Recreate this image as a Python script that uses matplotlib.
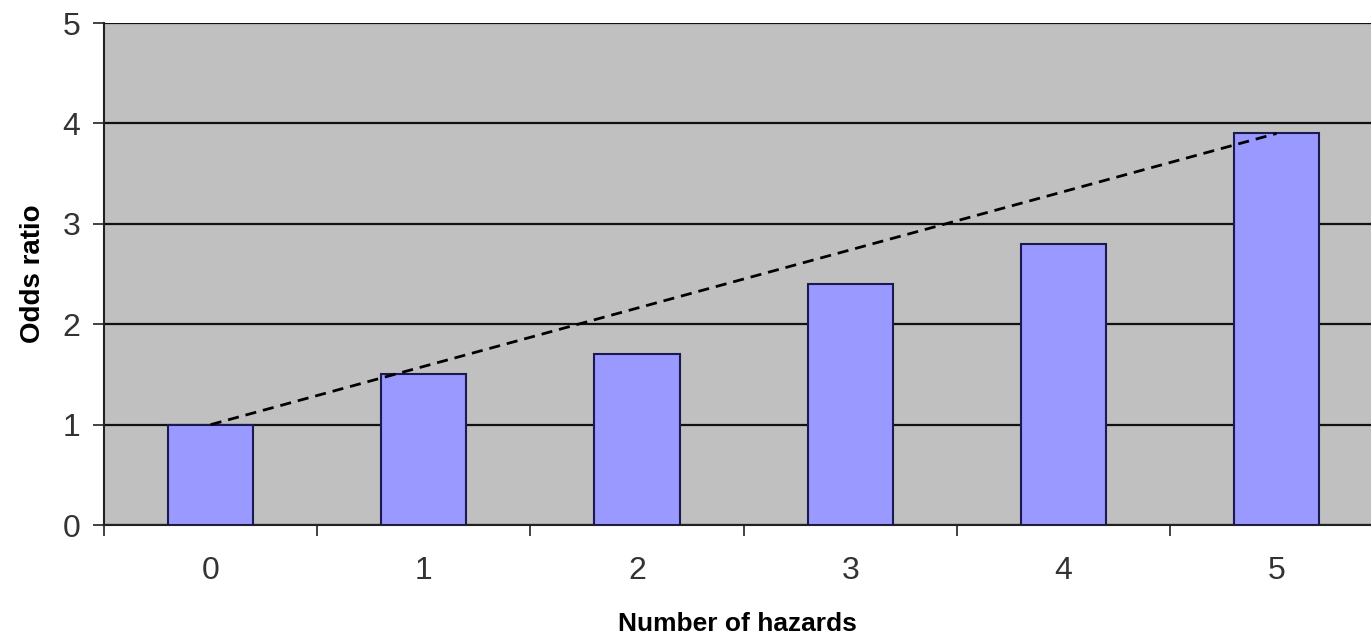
import numpy as np
import matplotlib
matplotlib.use("Agg")
import matplotlib.pyplot as plt

# data
hazards = [0, 1, 2, 3, 4, 5]
odds_ratio = [1.0, 1.5, 1.7, 2.4, 2.8, 3.9]
tick_labels = ["0", "1", "2", "3", "4", "5"]

plt.rcParams['font.family'] = ['Liberation Sans', 'DejaVu Sans']

fig = plt.figure(figsize=(13.71, 6.36), dpi=100)
ax = fig.add_axes([0.0759, 0.1745, 1.0 - 0.0759, 0.9638 - 0.1745])
ax.set_facecolor('#C0C0C0')

x = np.arange(len(hazards))
ax.bar(x, odds_ratio, width=0.4, color='#9999FF', edgecolor='#1A1A50',
       linewidth=1.5, zorder=3)

# dashed line joining first and last bar tops
ax.plot([x[0], x[-1]], [odds_ratio[0], odds_ratio[-1]], color='black',
        linestyle=(0, (4, 2.5)), linewidth=2, zorder=4)

ax.set_xlim(-0.5, 5.443)
ax.set_ylim(0, 5)
ax.set_yticks([0, 1, 2, 3, 4, 5])
ax.yaxis.grid(True, color='#111111', linewidth=1.6, zorder=1)
ax.set_axisbelow(True)

ax.set_xticks(x)
ax.set_xticklabels(tick_labels)
ax.set_xticks(np.arange(-0.5, 5.0, 1.0), minor=True)
ax.tick_params(axis='x', which='major', length=0, pad=22,
               labelsize=23, labelcolor='#333333')
ax.tick_params(axis='x', which='minor', length=8, width=1.2, direction='out',
               color='#222222')
ax.tick_params(axis='y', length=8, width=1.2, direction='out', pad=9,
               labelsize=23, labelcolor='#333333', color='#222222')

for side in ['top', 'right']:
    ax.spines[side].set_visible(False)
for side in ['left', 'bottom']:
    ax.spines[side].set_color('#222222')
    ax.spines[side].set_linewidth(1.5)

ax.set_xlabel("Number of hazards", fontsize=19, fontweight='bold', labelpad=19)
ax.set_ylabel("Odds ratio", fontsize=20, fontweight='bold', labelpad=12)

fig.savefig("out.png", dpi=100)
